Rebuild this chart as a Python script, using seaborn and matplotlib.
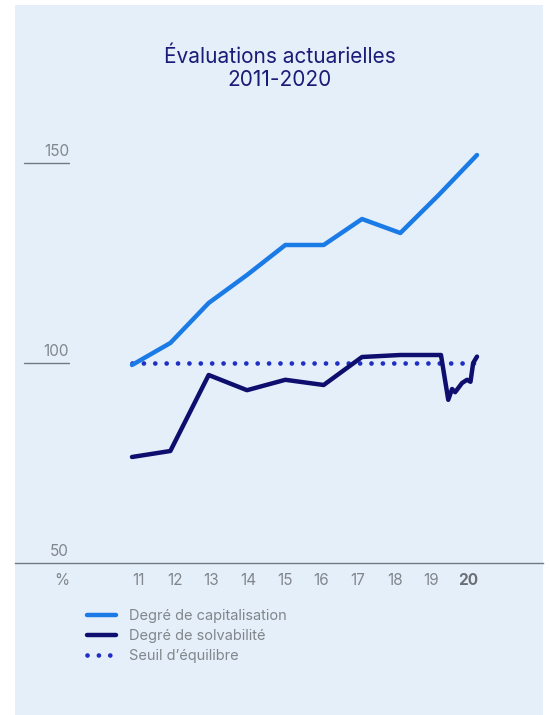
import matplotlib
matplotlib.use("Agg")
import matplotlib.pyplot as plt
from matplotlib.patches import Rectangle
from matplotlib.lines import Line2D
import seaborn as sns
import pandas as pd

# ---- data ----
years = [11, 12, 13, 14, 15, 16, 17, 18, 19, 20]
tick_labels = ["11", "12", "13", "14", "15", "16", "17", "18", "19", "20"]
capitalisation = [99.5, 105, 115, 122, 129.5, 129.5, 136, 132.5, 142, 152]
solv_x = [11, 12, 13, 14, 15, 16, 17, 18, 19, 19.06, 19.25, 19.35, 19.43, 19.61, 19.74, 19.83, 19.90, 20.0]
solvabilite = [76.5, 78, 97, 93.2, 95.8, 94.5, 101.5, 102, 102, 102, 90.8, 93.5, 92.7, 95, 95.8, 95.3, 100, 101.6]
seuil_x = [11, 20]
seuil = [100, 100]
y_ticks = [50, 100, 150]
series_names = ["Degré de capitalisation", "Degré de solvabilité", "Seuil d\u2019équilibre"]
title = "Évaluations actuarielles\n2011-2020"

# ---- style ----
sns.set_style("white")
plt.rcParams["font.family"] = ["Inter", "DejaVu Sans"]

BG = "#e5eff9"
C_CAP = "#1a7ae6"
C_SOLV = "#0e0e6e"
C_SEUIL = "#1f2fc4"
GRAY = "#80868c"
AXIS = "#6f7a84"
NAVY_T = "#1b1b78"

W, H = 550, 715
fig = plt.figure(figsize=(W / 100, H / 100), dpi=100, facecolor="white")
fig.patches.append(Rectangle((15 / W, 0), 528 / W, 710 / H, transform=fig.transFigure,
                             facecolor=BG, edgecolor="none", zorder=-10))

# axes: y=50 at px 563, 4 px per unit; top at y=165
y0, y1 = 50, 165
ax_bottom_px = 563
ax_top_px = 563 - (y1 - y0) * 4
ax = fig.add_axes([15 / W, 1 - ax_bottom_px / H, 528 / W, (ax_bottom_px - ax_top_px) / H])
ax.set_facecolor("none")
ax.set_zorder(1)

df_cap = pd.DataFrame({"x": years, "y": capitalisation})
df_solv = pd.DataFrame({"x": solv_x, "y": solvabilite})
df_seuil = pd.DataFrame({"x": seuil_x, "y": seuil})

sns.lineplot(data=df_seuil, x="x", y="y", ax=ax, color=C_SEUIL, lw=3.4,
             linestyle=(0, (0.01, 2.4)), dash_capstyle="round", estimator=None, zorder=2)
sns.lineplot(data=df_cap, x="x", y="y", ax=ax, color=C_CAP, lw=3.2,
             solid_capstyle="round", solid_joinstyle="round", estimator=None, zorder=3)
sns.lineplot(data=df_solv, x="x", y="y", ax=ax, color=C_SOLV, lw=3.2,
             solid_capstyle="round", solid_joinstyle="round", estimator=None, sort=False, zorder=4)

px_per_year = (477 - 132) / 9
ax.set_xlim(11 - (132 - 15) / px_per_year, 20 + (543 - 477) / px_per_year)
ax.set_ylim(y0, y1)

for s in ["top", "right", "left"]:
    ax.spines[s].set_visible(False)
ax.spines["bottom"].set_color(AXIS)
ax.spines["bottom"].set_linewidth(1.0)

ax.set_xlabel("")
ax.set_ylabel("")
ax.set_yticks([])
# category labels sit on a slightly narrower band than the lines
tick_pos = [11.16 + 0.956 * (y - 11) for y in years]
ax.set_xticks(tick_pos)
ax.set_xticklabels(tick_labels)
ax.tick_params(axis="x", length=0, pad=7, labelsize=11, labelcolor=GRAY)
for lbl in ax.get_xticklabels():
    if lbl.get_text() == "20":
        lbl.set_fontweight("bold")
        lbl.set_color("#6a6f75")

# y labels with short rule
x_rule0 = (24 - 15) / 528
x_rule1 = (69 - 15) / 528
for v in y_ticks:
    if v != 50:
        ax.plot([x_rule0, x_rule1], [v, v], transform=ax.get_yaxis_transform(),
                color=AXIS, lw=1.0, clip_on=False)
    ax.annotate(str(v), xy=(x_rule1, v), xycoords=("axes fraction", "data"),
                xytext=(0, 3), textcoords="offset points", ha="right", va="bottom",
                fontsize=11, color=GRAY)
ax.annotate("%", xy=((62 - 15) / 528, 0), xycoords="axes fraction",
            xytext=(0, -7), textcoords="offset points", ha="center", va="top",
            fontsize=11, color=GRAY)

fig.text(280 / W, 1 - 68 / H, title, ha="center", va="center", fontsize=15,
         color=NAVY_T, linespacing=1.2)

handles = [
    Line2D([], [], color=C_CAP, lw=3.2, solid_capstyle="round"),
    Line2D([], [], color=C_SOLV, lw=3.2, solid_capstyle="round"),
    Line2D([], [], color=C_SEUIL, lw=3.4, linestyle=(0, (0.01, 2.4)), dash_capstyle="round"),
]
leg = fig.legend(handles, series_names, loc="upper left",
                 bbox_to_anchor=(87 / W, 1 - 609 / H), frameon=False,
                 fontsize=10.5, handlelength=2.0, handletextpad=0.85,
                 labelspacing=0.4, borderpad=0, borderaxespad=0)
for t in leg.get_texts():
    t.set_color(GRAY)

fig.savefig("out.png", dpi=100, facecolor="white")
